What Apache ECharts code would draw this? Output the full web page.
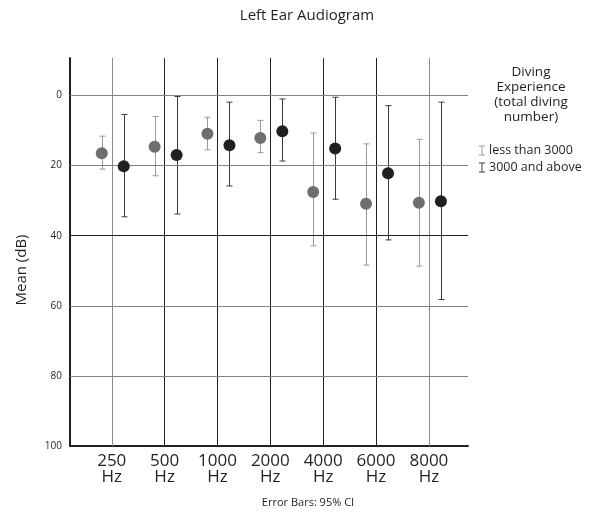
<!DOCTYPE html>
<html>
<head>
<meta charset="utf-8">
<script src="https://cdn.jsdelivr.net/npm/echarts@6.0.0/dist/echarts.min.js"></script>
<style>
  html, body { margin: 0; padding: 0; background: #fff; }
  #chart { width: 594px; height: 517px; }
</style>
</head>
<body>
<div id="chart"></div>
<script>
// frequencies (category axis positions 1..7)
const freqs = ['250', '500', '1000', '2000', '4000', '6000', '8000'];
const yTicks = [0, 20, 40, 60, 80, 100];

// less than 3000 dives
const lessMean = [16.5, 14.6, 10.9, 12.1, 27.5, 30.9, 30.6];
const lessLow  = [11.6, 6.0, 6.2, 7.1, 10.7, 13.8, 12.5];
const lessHigh = [21.0, 22.9, 15.5, 16.3, 42.9, 48.4, 48.7];

// 3000 and above
const moreMean = [20.2, 17.0, 14.2, 10.2, 15.1, 22.2, 30.2];
const moreLow  = [5.4, 0.3, 1.9, 1.0, 0.5, 2.9, 1.9];
const moreHigh = [34.6, 33.8, 25.8, 18.7, 29.6, 41.2, 58.2];

const gridX = [1, 2, 3, 4, 5, 6, 7];
const gridXColor = ['#8a8a8a', '#231f20', '#231f20', '#231f20', '#231f20', '#231f20', '#8a8a8a'];
const gridY = [0, 20, 40, 60, 80];
const gridYColor = ['#808080', '#808080', '#231f20', '#808080', '#808080'];

const FONT = '"Open Sans", "Noto Sans", sans-serif';
const barIcon = 'path://M0,0H6V1H3.5V9H6V10H0V9H2.5V1H0Z';

function errorBars(name, low, high, color, offset) {
  return {
    name: name,
    type: 'custom',
    z: 3,
    itemStyle: { color: color },
    data: low.map((v, i) => [i + 1, v, high[i]]),
    renderItem: function (params, api) {
      const a = api.coord([api.value(0), api.value(1)]);
      const b = api.coord([api.value(0), api.value(2)]);
      const cx = Math.round(a[0] + offset) + 0.5;
      const hw = 3;
      const st = { stroke: color, lineWidth: 1 };
      return {
        type: 'group',
        children: [
          { type: 'line', shape: { x1: cx, y1: a[1], x2: cx, y2: b[1] }, style: st },
          { type: 'line', shape: { x1: cx - hw, y1: a[1], x2: cx + hw, y2: a[1] }, style: st },
          { type: 'line', shape: { x1: cx - hw, y1: b[1], x2: cx + hw, y2: b[1] }, style: st }
        ]
      };
    }
  };
}

function points(name, mean, color, offset) {
  return {
    name: name,
    type: 'scatter',
    z: 5,
    symbol: 'circle',
    symbolSize: 12,
    symbolOffset: [offset, 0],
    itemStyle: { color: color, opacity: 1 },
    data: mean.map((v, i) => [i + 1, v])
  };
}

const chart = echarts.init(document.getElementById('chart'));
chart.setOption({
  animation: false,
  textStyle: { fontFamily: FONT },
  grid: { left: 70, top: 58, right: 126, bottom: 71 },
  legend: {
    orient: 'vertical',
    left: 474,
    top: 139,
    itemGap: 4,
    itemWidth: 6,
    itemHeight: 10,
    selectedMode: false,
    data: [
      { name: 'less than 3000', icon: barIcon },
      { name: '3000 and above', icon: barIcon }
    ],
    textStyle: { fontSize: 12.5, color: '#231f20', fontFamily: FONT, padding: [0, 0, 0, -1] }
  },
  xAxis: {
    type: 'value',
    min: 0.21,
    max: 7.74,
    axisLine: { show: true, onZero: false, lineStyle: { color: '#231f20', width: 2 } },
    axisTick: { show: false },
    splitLine: { show: false },
    axisLabel: {
      customValues: gridX,
      margin: 7,
      fontSize: 17,
      lineHeight: 16,
      color: '#231f20',
      fontFamily: FONT,
      formatter: v => freqs[Math.round(v) - 1] + '\nHz'
    }
  },
  yAxis: {
    type: 'value',
    inverse: true,
    min: -10.7,
    max: 100,
    axisLine: { show: true, lineStyle: { color: '#231f20', width: 2 } },
    axisTick: { show: false },
    splitLine: { show: false },
    axisLabel: {
      customValues: yTicks,
      margin: 8,
      fontSize: 10,
      color: '#231f20',
      fontFamily: FONT
    }
  },
  graphic: [
    { type: 'text', x: 307, y: 8,
      style: { text: 'Left Ear Audiogram', fontSize: 15, fill: '#231f20', fontFamily: FONT, align: 'center' } },
    { type: 'text', x: 22, y: 270, rotation: Math.PI / 2,
      style: { text: 'Mean (dB)', fontSize: 15, fill: '#231f20', fontFamily: FONT, align: 'center', verticalAlign: 'middle' } },
    { type: 'text', x: 308, y: 503,
      style: { text: 'Error Bars: 95% CI', fontSize: 11, fill: '#231f20', fontFamily: FONT, align: 'center', verticalAlign: 'middle' } },
    { type: 'text', x: 531, y: 65,
      style: { text: 'Diving\nExperience\n(total diving\nnumber)', fontSize: 13.5, lineHeight: 15, fill: '#231f20', fontFamily: FONT, align: 'center' } }
  ],
  series: [
    {
      type: 'line',
      data: [],
      silent: true,
      markLine: {
        silent: true,
        symbol: 'none',
        label: { show: false },
        animation: false,
        data: gridX.map((x, i) => ({ xAxis: x, lineStyle: { color: gridXColor[i], width: 1, type: 'solid' } }))
          .concat(gridY.map((y, i) => ({ yAxis: y, lineStyle: { color: gridYColor[i], width: 1, type: 'solid' } })))
      }
    },
    errorBars('less than 3000', lessLow, lessHigh, '#9a9a9a', -10),
    errorBars('3000 and above', moreLow, moreHigh, '#3a3a3a', 12),
    points('less than 3000', lessMean, '#6d6e71', -10),
    points('3000 and above', moreMean, '#231f20', 12)
  ]
});
</script>
</body>
</html>
